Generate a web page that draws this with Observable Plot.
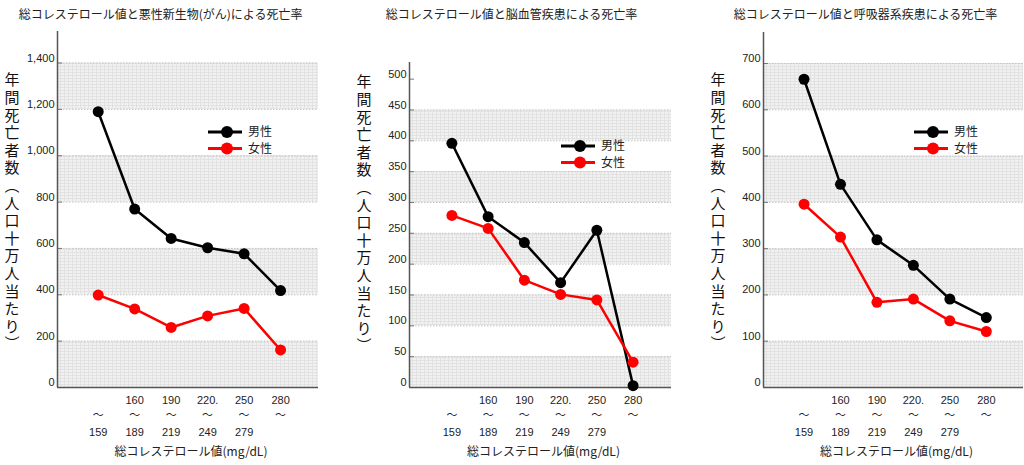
<!DOCTYPE html>
<html><head><meta charset="utf-8">
<script src="https://cdn.jsdelivr.net/npm/d3@7"></script>
<script src="https://cdn.jsdelivr.net/npm/@observablehq/plot@0.6"></script>
<style>
html,body{margin:0;padding:0;background:#fff;}
#wrap{position:relative;width:1024px;height:465px;overflow:hidden;background:#fff;}
.panel{position:absolute;top:0;}
</style></head><body><div id="wrap"></div>
<script>
// ---- data ----
const groups = ["～159", "160～189", "190～219", "220.～249", "250～279", "280～"];
const rangeFrom = ["", "160", "190", "220.", "250", "280"];
const rangeTo = ["159", "189", "219", "249", "279", ""];
const seriesNames = ["男性", "女性"];
const seriesColors = ["#000000", "#ff0000"];

const cancerMale = [1190, 770, 643, 603, 577, 418];
const cancerFemale = [399, 339, 259, 309, 341, 162];
const cerebroMale = [396, 277, 235, 170, 255, 3];
const cerebroFemale = [279, 258, 174, 151, 142, 41];
const respMale = [666, 439, 319, 264, 191, 151];
const respFemale = [396, 325, 184, 191, 144, 121];

const ticksCancer = [0, 200, 400, 600, 800, 1000, 1200, 1400];
const ticksCerebro = [0, 50, 100, 150, 200, 250, 300, 350, 400, 450, 500];
const ticksResp = [0, 100, 200, 300, 400, 500, 600, 700];

const titles = [
  "総コレステロール値と悪性新生物(がん)による死亡率",
  "総コレステロール値と脳血管疾患による死亡率",
  "総コレステロール値と呼吸器系疾患による死亡率"
];
const yTitle = "年間死亡者数（人口十万人当たり）";
const xTitle = "総コレステロール値(mg/dL)";

// ---- layout ----
const JP = "'Noto Sans CJK JP', 'Noto Sans', sans-serif";
const NUM = "'Liberation Sans', Arial, sans-serif";

const panels = [
  {left: 0, width: 340, mL: 57, mR: 22, mT: 31, yMax: 1536, xDom: [-0.116, 7.04],
   values: [cancerMale, cancerFemale], ticks: ticksCancer, title: titles[0],
   titleX: 160, yTitleY: 213, legX: 208, legY: 132},
  {left: 340, width: 340, mL: 69, mR: 9, mT: 62, yMax: 527, xDom: [-0.17, 7.06],
   values: [cerebroMale, cerebroFemale], ticks: ticksCerebro, title: titles[1],
   titleX: 171, yTitleY: 215, legX: 221, legY: 146},
  {left: 690, width: 334, mL: 73, mR: 1, mT: 32, yMax: 767, xDom: [-0.112, 7.02],
   values: [respMale, respFemale], ticks: ticksResp, title: titles[2],
   titleX: 175, yTitleY: 213, legX: 224, legY: 132}
];
const H = 465, mB = 78;
const wrap = document.getElementById("wrap");

panels.forEach((cfg, pi) => {
  const rows = [];
  seriesNames.forEach((s, k) => cfg.values[k].forEach((v, i) => rows.push({i: i + 1, series: s, value: v})));
  const bands = [];
  for (let j = 0; j + 1 < cfg.ticks.length; j += 2) bands.push({y1: cfg.ticks[j], y2: cfg.ticks[j + 1]});
  const edges = bands.flatMap(b => [b.y1, b.y2]).filter(v => v > 0);
  const frameW = cfg.width - cfg.mL - cfg.mR;
  const frameTop = cfg.mT, frameBot = H - mB;
  const frameCx = cfg.mL + frameW / 2;
  const idx = (d, i) => i + 1;

  const plot = Plot.plot({
    width: cfg.width, height: H,
    marginLeft: cfg.mL, marginRight: cfg.mR, marginTop: cfg.mT, marginBottom: mB,
    x: {domain: cfg.xDom, axis: null},
    y: {domain: [0, cfg.yMax], axis: null},
    color: {domain: seriesNames, range: seriesColors},
    style: {fontFamily: NUM, fontSize: "11px", color: "#222", background: "#fff", overflow: "visible"},
    marks: [
      Plot.rect(bands, {y1: "y1", y2: "y2", fill: "#ebebeb", className: "bands"}),
      Plot.ruleY(edges, {stroke: "#c4c4c4", strokeDasharray: "1.5,1.5"}),
      Plot.axisY({ticks: cfg.ticks, tickSize: 0, tickPadding: 3, dy: -5, tickFormat: d3.format(","), fontSize: 11, fill: "#222"}),
      Plot.tickY(cfg.ticks, {y: d => d, stroke: "#777", insetRight: frameW - 5}),
      Plot.ruleX([cfg.xDom[0]], {stroke: "#555", strokeWidth: 1.5}),
      Plot.ruleY([0], {stroke: "#555", strokeWidth: 1.5}),
      Plot.line(rows, {x: "i", y: "value", z: "series", stroke: "series", strokeWidth: 2.5}),
      Plot.dot(rows, {x: "i", y: "value", fill: "series", r: 5.5}),
      Plot.text(groups, {x: idx, text: (d, i) => rangeFrom[i], frameAnchor: "bottom", dy: 16, fontSize: 11, fill: "#222"}),
      Plot.text(groups, {x: idx, text: () => "～", frameAnchor: "bottom", dy: 31, fontSize: 11, fontFamily: JP, fill: "#222"}),
      Plot.text(groups, {x: idx, text: (d, i) => rangeTo[i], frameAnchor: "bottom", dy: 48, fontSize: 11, fill: "#222"}),
      Plot.text([xTitle], {frameAnchor: "bottom", dy: 68, dx: 3, fontSize: 12, fontFamily: JP, fill: "#222"}),
      Plot.text([cfg.title], {frameAnchor: "top", dy: 10 - frameTop, dx: cfg.titleX - frameCx, fontSize: 12, fontFamily: JP, fill: "#222"})
    ]
  });

  const svg = d3.select(plot);
  const pid = "grid" + pi;
  const defs = svg.insert("defs", ":first-child");
  const p = defs.append("pattern").attr("id", pid).attr("patternUnits", "userSpaceOnUse").attr("width", 4).attr("height", 3);
  p.append("rect").attr("width", 4).attr("height", 3).attr("fill", "#f1f1f1");
  p.append("rect").attr("width", 4).attr("height", 1).attr("fill", "#e2e2e2");
  p.append("rect").attr("width", 1).attr("height", 3).attr("fill", "#e2e2e2");
  svg.selectAll("g.bands rect").attr("fill", `url(#${pid})`);

  // vertical y-axis title
  svg.append("text")
    .attr("x", cfg.mL - 45).attr("y", cfg.yTitleY)
    .attr("text-anchor", "middle")
    .style("writing-mode", "vertical-rl")
    .style("letter-spacing", "2.6px")
    .attr("font-family", JP).attr("font-size", 15).attr("fill", "#111")
    .text(yTitle);

  // legend
  const lg = svg.append("g").attr("transform", `translate(${cfg.legX},${cfg.legY})`);
  seriesNames.forEach((s, k) => {
    const g = lg.append("g").attr("transform", `translate(0,${k * 16.5})`);
    g.append("line").attr("x1", 0).attr("x2", 34).attr("y1", 0).attr("y2", 0)
      .attr("stroke", seriesColors[k]).attr("stroke-width", 3);
    g.append("circle").attr("cx", 19).attr("cy", 0).attr("r", 6).attr("fill", seriesColors[k]);
    g.append("text").attr("x", 40).attr("y", 0).attr("dy", "0.35em").attr("text-anchor", "start")
      .attr("font-family", JP).attr("font-size", 12).attr("fill", "#222").text(s);
  });

  const div = document.createElement("div");
  div.className = "panel";
  div.style.left = cfg.left + "px";
  div.appendChild(plot);
  wrap.appendChild(div);
});
</script>
</body></html>
